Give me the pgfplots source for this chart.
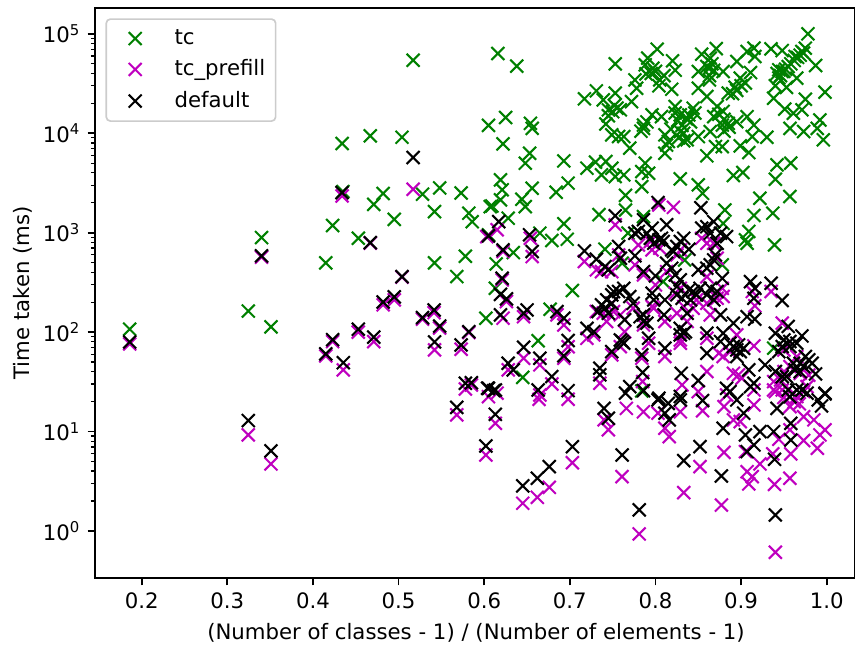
\documentclass[border=0pt]{standalone}
\usepackage{pgfplots}
\pgfplotsset{compat=1.18}
\usepackage{fontspec}
\setmainfont{DejaVu Sans}
\definecolor{mplgreen}{HTML}{008000}
\definecolor{mplmag}{HTML}{BF00BF}
\pgfplotsset{lgd/.style={legend image code/.code={\path (0pt,0pt) (27pt,0pt); \draw[##1] plot coordinates {(10.5pt,0pt)};}}}
\begin{document}
\begin{tikzpicture}
\useasboundingbox (0,0) rectangle (410.4pt,310.08pt);
\begin{axis}[
  at={(45.6pt,32.64pt)}, anchor=south west,
  scale only axis, width=364.8pt, height=273.6pt,
  xmin=0.1455, xmax=1.033,
  ymode=log, ymin=0.3365, ymax=182000,
  axis line style={line width=0.8pt},
  xtick={0.2,0.3,0.4,0.5,0.6,0.7,0.8,0.9,1.0},
  xticklabels={0.2,0.3,0.4,0.5,0.6,0.7,0.8,0.9,1.0},
  ytick={1,10,100,1000,10000,100000},
  yticklabels={10\textsuperscript{0},10\textsuperscript{1},10\textsuperscript{2},10\textsuperscript{3},10\textsuperscript{4},10\textsuperscript{5}},
  tick align=outside, tickpos=left,
  major tick length=3.5pt, minor tick length=2pt,
  every tick/.style={black},
  major tick style={line width=0.8pt,black},
  minor tick style={line width=0.6pt,black},
  minor y tick num=8,
  log ticks with fixed point=false,
  tick label style={font=\fontsize{10.2}{12}\selectfont},
  xlabel={(Number of classes - 1) / (Number of elements - 1)},
  ylabel={Time taken (ms)},
  label style={font=\fontsize{10.2}{12}\selectfont},
  xlabel style={at={(axis description cs:0.5,0)},anchor=north,yshift=-18.4pt,xshift=0.5pt},
  ylabel style={at={(axis description cs:0,0.5)},anchor=south,yshift=26.5pt},
  legend style={at={(axis description cs:0.0137,0.982)},anchor=north west,
    draw=black!20,rounded corners=2pt,line width=0.8pt,font=\fontsize{10.2}{12}\selectfont,
    row sep=1.9pt,inner xsep=3pt,inner ysep=3pt},
  legend cell align=left,
  clip=true,
]
\addplot[only marks,mark=x,mark size=4.4pt,mark options={mplgreen,line width=1pt},draw=mplgreen,lgd] coordinates {
(0.978,100000)(0.616,63400)(0.638,47300)(0.753,49900)(0.802,70100)(0.871,71100)(0.854,62400)(0.915,71800)(0.935,70600)(0.948,67900)
(0.820,53500)(0.823,43100)(0.791,56900)(0.788,48800)(0.797,45100)(0.805,34400)(0.776,34400)(0.778,28400)(0.789,39600)(0.819,27700)
(0.804,30000)(0.864,56900)(0.863,45100)(0.850,41800)(0.879,41800)(0.863,34400)(0.850,28400)(0.860,23400)(0.895,52700)(0.911,40800)
(0.899,35800)(0.893,29000)(0.885,25300)(0.907,66400)(0.916,59200)(0.944,43500)(0.948,41800)(0.963,59200)(0.971,66400)(0.975,71800)
(0.987,48000)(0.940,30000)(0.955,46900)(0.965,35800)(0.953,29000)(0.938,22500)(0.975,22000)(0.998,25900)(0.717,22200)(0.731,26700)
(0.753,25300)(0.739,21700)(0.772,20800)(0.745,17200)(0.755,17900)(0.742,12400)(0.749,9640)(0.759,17200)(0.796,15300)(0.786,12100)
(0.786,11200)(0.823,18600)(0.829,15300)(0.844,17900)(0.839,15300)(0.807,14700)(0.872,18600)(0.879,16600)(0.868,14700)(0.895,13100)
(0.885,12600)(0.878,12100)(0.907,14700)(0.951,17500)(0.961,15900)(0.971,17200)(0.992,13600)(0.989,11200)(0.957,11200)(0.973,10400)
(0.996,8590)(0.915,12100)(0.913,9270)(0.930,9120)(0.763,9270)(0.770,7080)(0.757,9270)(0.811,9640)(0.815,8260)(0.811,6300)
(0.829,10400)(0.837,8590)(0.850,9270)(0.833,10000)(0.864,10400)(0.878,7350)(0.870,7350)(0.860,5930)(0.899,7460)(0.909,6400)
(0.693,5270)(0.720,4450)(0.730,5120)(0.742,5200)(0.749,4450)(0.737,3810)(0.753,3670)(0.763,3810)(0.788,5000)(0.784,4120)
(0.792,3960)(0.784,2910)(0.765,2370)(0.942,4810)(0.958,5000)(0.940,3450)(0.891,3760)(0.902,4030)(0.829,3480)(0.850,3030)
(0.855,2490)(0.922,2220)(0.957,2310)(0.698,3150)(0.684,2550)(0.656,2800)(0.644,2170)(0.619,3400)(0.621,2700)(0.609,1860)
(0.648,5000)(0.653,6300)(0.622,7820)(0.605,12000)(0.625,14400)(0.654,12600)(0.656,11200)
(0.517,54300)(0.434,7890)(0.467,9420)(0.504,9120)(0.548,2820)(0.528,2440)(0.573,2510)(0.482,2480)(0.471,1930)(0.435,2590)
(0.542,1630)(0.582,1570)(0.586,1290)(0.495,1360)(0.423,1180)(0.453,880)(0.340,893)(0.415,497)(0.542,497)(0.578,580)(0.568,362)
(0.186,107)(0.3245,163)(0.351,113)
(0.607,1830)(0.619,2140)(0.648,1830)(0.628,1400)(0.734,1520)(0.765,1690)(0.693,1230)(0.665,990)(0.679,834)(0.697,859)
(0.881,1690)(0.879,1240)(0.915,1490)(0.937,1570)(0.909,1030)(0.907,783)(0.939,753)(0.741,682)(0.634,631)(0.614,485)
(0.605,951)(0.768,990)(0.834,532)(0.878,474)(0.613,276)(0.703,262)(0.677,170)(0.602,138)(0.809,322)(0.663,82)
(0.645,35)(0.784,25.6)(0.938,69)(0.761,493)(0.786,1450)(0.905,847)
(0.942,40000)(0.946,38000)(0.952,44000)(0.958,50000)(0.962,54000)(0.966,58000)(0.969,61000)(0.973,64000)(0.944,36000)(0.950,42000)
(0.800,42000)(0.795,40000)(0.810,38000)(0.866,50000)(0.860,47000)(0.868,43000)(0.863,38000)(0.905,32000)(0.900,30000)(0.895,27000)
(0.890,25000)(0.745,15000)(0.750,16500)(0.752,19000)(0.823,16000)(0.826,13500)(0.831,12000)(0.836,14000)(0.841,13000)(0.846,16000)
(0.874,15500)(0.880,13800)(0.886,11500)(0.880,10500)(0.790,13000)(0.783,10500)(0.818,11000)(0.813,7600)(0.827,9000)(0.833,8400)
};
\addlegendentry{tc}
\addplot[only marks,mark=x,mark size=4.4pt,mark options={mplmag,line width=1pt},draw=mplmag,lgd] coordinates {
(0.186,76.1)(0.3245,9.25)(0.351,4.72)(0.423,80.2)(0.415,57.6)(0.4355,41.7)(0.453,100)(0.471,80.2)(0.482,188)(0.495,211)
(0.528,135)(0.5415,157)(0.548,110)(0.542,66.2)(0.573,67.3)(0.582,99)(0.578,26.8)(0.585,29.4)(0.568,14.7)(0.517,2740)
(0.434,2340)(0.467,784)(0.504,357)(0.340,567)
(0.615,1070)(0.603,914)(0.654,879)(0.622,646)(0.656,575)(0.717,513)(0.731,423)(0.737,406)(0.749,406)(0.753,1200)
(0.821,1800)(0.804,1900)(0.780,753)(0.796,671)(0.854,879)(0.868,783)(0.829,671)(0.757,598)(0.776,474)(0.786,376)
(0.813,406)(0.800,298)(0.878,276)(0.913,256)(0.916,184)(0.935,256)(0.621,335)(0.626,203)(0.622,138)(0.646,143)
(0.685,149)(0.693,118)(0.743,128)(0.759,149)(0.774,174)(0.796,181)(0.811,128)(0.837,128)(0.825,155)(0.844,174)
(0.864,149)(0.731,161)(0.720,86.7)(0.728,93.8)(0.764,101)(0.829,77.3)(0.860,86.7)(0.895,93.8)(0.879,56.8)(0.874,61.2)
(0.915,72.6)(0.948,123)(0.698,71.4)(0.693,54.6)(0.749,59)(0.792,77.3)(0.784,54.6)(0.811,56.8)(0.646,54.6)(0.665,46.8)
(0.628,41.7)(0.679,30.1)(0.897,37.1)(0.891,38.5)(0.901,34.4)(0.831,29.4)(0.860,40.1)(0.850,25.2)(0.785,31.8)(0.735,30.6)
(0.940,25.2)(0.950,40.1)(0.977,28.3)(0.961,24.3)(0.665,23.3)
(0.602,5.81)(0.613,12.1)(0.605,22.4)(0.615,24.3)(0.664,21.1)(0.698,21.1)(0.740,13.1)(0.745,10.4)(0.766,17.1)(0.786,15.8)
(0.803,15.3)(0.811,10.8)(0.816,8.89)(0.829,15.8)(0.855,16.2)(0.880,17.8)(0.880,6.18)(0.891,13.1)(0.899,12.6)(0.915,18.5)
(0.852,4.44)(0.833,2.43)(0.761,3.52)(0.703,4.86)(0.676,2.75)(0.662,2.18)(0.645,1.9)(0.781,0.933)(0.877,1.82)(0.940,0.61)
(0.939,2.94)(0.957,3.39)(0.909,2.97)(0.913,3.52)(0.907,3.95)(0.922,4.72)(0.905,6.28)(0.958,5.96)(0.937,5.96)(0.973,8.11)
(0.989,6.79)(0.998,10.4)(0.992,9.25)(0.985,13.1)(0.957,10.4)(0.944,8.36)(0.973,14.1)(0.957,17.8)(0.938,26.2)
(0.962,20)(0.968,19)(0.950,22)
(0.794,815)(0.805,698)(0.825,598)(0.860,783)(0.872,553)(0.860,361)(0.829,276)(0.823,246)(0.749,195)(0.739,155)
(0.751,161)(0.833,181)(0.848,211)(0.860,195)(0.872,219)(0.879,228)(0.798,174)(0.786,118)(0.759,71.4)(0.829,83.4)
(0.887,63.7)(0.950,66)(0.965,56.8)(0.957,45)(0.969,38.5)(0.979,37)(0.946,33)(0.938,31.8)(0.948,26.2)(0.973,25.2)
(0.915,26.2)(0.883,23.3)(0.965,22.5)
};
\addlegendentry{tc\_prefill}
\addplot[only marks,mark=x,mark size=4.4pt,mark options={black,line width=1pt},draw=black,lgd] coordinates {
(0.186,79.7)(0.3245,12.9)(0.351,6.38)(0.423,84)(0.415,60.4)(0.4355,49.3)(0.453,107)(0.471,88.9)(0.482,201)(0.495,226)
(0.528,140)(0.5415,167)(0.548,115)(0.542,79.6)(0.573,74.3)(0.582,101)(0.578,30.6)(0.585,31)(0.568,17.5)(0.517,5700)
(0.434,2530)(0.467,794)(0.504,362)(0.340,585)
(0.853,1780)(0.753,1480)(0.617,1290)(0.803,2010)(0.605,929)(0.653,951)(0.622,671)(0.656,646)(0.717,656)(0.731,541)
(0.741,456)(0.745,423)(0.757,726)(0.759,553)(0.776,585)(0.786,406)(0.786,1350)(0.796,1110)(0.776,988)(0.804,847)
(0.813,1200)(0.829,815)(0.819,671)(0.839,682)(0.854,1110)(0.868,1290)(0.864,988)(0.883,914)(0.870,598)(0.864,474)
(0.850,423)(0.813,493)(0.823,376)(0.800,367)(0.878,348)(0.911,322)(0.916,276)(0.915,219)(0.935,310)(0.948,208)
(0.621,348)(0.619,240)(0.626,216)(0.650,167)(0.646,155)(0.619,149)(0.685,161)(0.693,138)(0.751,256)(0.763,276)
(0.743,211)(0.733,161)(0.745,155)(0.770,228)(0.774,195)(0.796,246)(0.811,211)(0.825,237)(0.844,256)(0.864,276)
(0.841,211)(0.868,211)(0.810,149)(0.837,155)(0.786,149)(0.786,128)(0.764,133)(0.876,149)(0.891,123)(0.907,143)
(0.916,135)(0.720,109)(0.728,101)(0.829,109)(0.860,97.5)(0.833,97.5)(0.879,97.5)(0.876,80.4)(0.891,71.6)(0.899,63.7)
(0.895,66.2)(0.698,82.2)(0.693,57.7)(0.761,80.4)(0.749,63.7)(0.792,86.7)(0.784,59)(0.811,68.9)(0.860,61.2)(0.646,70.5)
(0.665,54.6)(0.628,48.6)(0.634,41.7)(0.679,35.7)(0.663,26.2)(0.698,25.8)(0.605,27.2)(0.613,26.2)(0.735,43.4)(0.735,37.2)
(0.785,39.2)(0.830,38.5)(0.850,32.5)(0.955,114)(0.971,91.6)(0.940,97.5)(0.957,80.4)(0.948,71.6)(0.979,52.5)(0.969,48.6)
(0.963,41.7)(0.928,46.8)(0.987,38)(0.940,40.1)(0.953,35.7)(0.909,41.7)(0.915,30.6)(0.883,27.2)(0.998,24.3)(0.770,28.3)
(0.765,24.3)(0.804,21.6)(0.829,22.5)
(0.602,7.16)(0.613,14.9)(0.604,27.2)(0.611,25.8)(0.740,17.1)(0.745,13.6)(0.786,25.8)(0.803,20.8)(0.815,19.2)(0.811,15.3)
(0.816,13.1)(0.829,20.8)(0.855,20.5)(0.895,20.8)(0.903,15.3)(0.879,10.8)(0.905,9.25)(0.922,9.98)(0.938,9.98)(0.915,7.33)
(0.907,6.28)(0.852,7.05)(0.833,5.1)(0.761,5.81)(0.703,7.05)(0.676,4.44)(0.662,3.39)(0.645,2.84)(0.781,1.63)(0.877,3.57)
(0.939,5.26)(0.940,1.45)(0.958,8.22)(0.958,12.1)(0.942,17.1)(0.957,22.4)(0.990,20.8)(0.998,23.9)(0.994,18.1)(0.971,26.2)
(0.780,1030)(0.790,988)(0.794,879)(0.807,879)(0.798,783)(0.809,815)(0.825,726)(0.821,646)(0.833,879)(0.860,1150)
(0.876,988)(0.872,783)(0.868,532)(0.860,440)(0.819,439)(0.829,335)(0.825,287)(0.749,237)(0.757,256)(0.737,188)
(0.741,174)(0.749,195)(0.831,219)(0.839,266)(0.848,237)(0.852,276)(0.860,237)(0.872,256)(0.798,211)(0.782,143)
(0.790,123)(0.759,83.4)(0.763,77.3)(0.829,93.8)(0.835,101)(0.887,77.3)(0.897,74.3)(0.903,68.9)(0.895,56.8)(0.950,83.4)
(0.957,71.6)(0.965,77.3)(0.944,63.7)(0.961,48.6)(0.975,56.8)(0.983,48.6)(0.973,45)(0.969,40)(0.948,35.7)(0.965,26.2)
(0.977,24.3)(0.955,26.2)(0.911,28.3)(0.887,25.2)
};
\addlegendentry{default}
\end{axis}
\end{tikzpicture}
\end{document}
